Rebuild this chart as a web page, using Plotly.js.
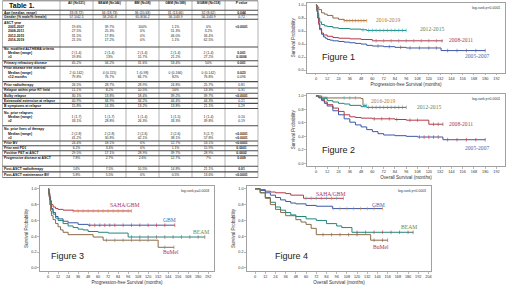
<!DOCTYPE html>
<html><head><meta charset="utf-8">
<script src="https://cdn.plot.ly/plotly-3.0.1.min.js"></script>
<style>html,body{margin:0;padding:0;background:#fff;overflow:hidden}</style>
</head><body><div id="chart" style="width:520px;height:292px"></div>
<script>
// ---------------- TABLE DATA ----------------
const tableTitle = 'Table 1.';
const colHeaders = ['All (N=531)','BEAM (N=146)','BM (N=38)','GBM (N=189)','S/GBM (N=158)','P value'];
const rowLabels = ['Age (median, range)','Gender (% male/% female)','ASCT year','2005-2007','2008-2011','2012-2015','2016-2019','No. modified ALTHEMA criteria','Median (range)','≥3','Primary refractory disease','Prior disease free interval','Median (range)','≤12 months','Prior radiotherapy','Relapse within prior RT field','Bulky relapse','Extranodal extension at relapse','B symptoms at relapse','No. prior relapses','Median (range)','≥2','No. prior lines of therapy','Median (range)','≥3','Prior BV','Prior anti PD1','Positive PET at ASCT','Progressive disease at ASCT','Post-ASCT radiotherapy','Post-ASCT maintenance BV'];
const valAll  = ['33 (8-72)','57.5/42.5','','19.6%','27.5%','31.5%','21.5%','','2 (1-4)','19.8%','45.2%','','2 (0-142)','79.8%','26.5%','11.1%','30.1%','40.9%','15.8%','','1 (1-7)','33.1%','','2 (2-8)','41.2%','24.4%','6.2%','29.5%','7.8%','14%','5.8%'];
const valBEAM = ['34 (18-73)','58.2/41.8','','39.7%','25.3%','17.8%','17.2%','','2 (1-4)','13%','34.2%','','4 (0-115)','76.7%','28.7%','8.2%','13.8%','34.9%','14.3%','','1 (1-7)','28.8%','','2 (2-8)','30.8%','18.1%','3.4%','17.1%','2.7%','7.5%','5.5%'];
const valBM   = ['36 (20-63)','65.8/34.2','','100%','0%','0%','0%','','2 (1-4)','15.7%','31.6%','','1 (0-98)','84.7%','28.9%','10.5%','18.4%','34.2%','13.2%','','1 (1-4)','26.3%','','2 (2-6)','42.1%','0%','0%','28.9%','2.6%','10.5%','0%'];
const valGBM  = ['31 (13-66)','56.1/43.9','','1.1%','51.3%','46.0%','1.1%','','2 (1-4)','21.2%','53.4%','','0 (0-166)','82%','24.8%','10%','39.2%','44.4%','13.8%','','1 (1-5)','33.3%','','2 (2-6)','38.1%','12.7%','1.1%','39.7%','12.7%','14.8%','0.5%'];
const valSGBM = ['32 (8-62)','56.1/43.9','','0%','3.2%','34.4%','62.5%','','2 (1-4)','27.2%','50%','','0 (0-142)','76.8%','25.7%','13.3%','39.7%','44.3%','21.1%','','1 (1-4)','39.8%','','3 (2-7)','57.8%','53.1%','15.9%','28.9%','7%','21.1%','13.6%'];
const valP    = ['0.044','0.72','','<0.0001','','','','','0.001','0.0006','0.001','','0.023','0.096','0.81','0.31','<0.0001','0.21','0.29','','0.10','0.19','','<0.0001','<0.0001','<0.0001','0.0001','0.0002','0.009','0.01','<0.0001'];

// ---------------- KM DATA (months, survival probability, censor times) ----------------
// Figure 1: PFS by ASCT year
const f1_0507_t = [0,1,2,3,4,6,8,10,12,15,18,24,30,36,42,48,54,60,72,84,96,133,180];
const f1_0507_s = [1,0.9,0.8,0.72,0.64,0.55,0.51,0.49,0.47,0.46,0.45,0.44,0.43,0.42,0.41,0.4,0.38,0.37,0.36,0.35,0.34,0.3,0.3];
const f1_0507_c = [66,78,90,100,110,120,128,140,150,160,170,180];
const f1_0811_t = [0,1,2,3,4,6,8,12,18,24,36,48,60,135];
const f1_0811_s = [1,0.92,0.8,0.7,0.62,0.57,0.54,0.52,0.5,0.49,0.48,0.47,0.45,0.45];
const f1_0811_c = [64,72,80,88,96,104,112,120,128,134];
const f1_1215_t = [0,1,2,3,4,6,9,12,18,24,36,48,54,96];
const f1_1215_s = [1,0.95,0.87,0.8,0.74,0.7,0.68,0.67,0.65,0.64,0.63,0.62,0.61,0.61];
const f1_1215_c = [50,56,60,64,68,72,76,80,84,88,92,96];
const f1_1619_t = [0,1,3,6,9,12,18,24,30,54];
const f1_1619_s = [1,0.97,0.93,0.88,0.86,0.84,0.8,0.78,0.76,0.76];
const f1_1619_c = [30,33,36,39,42,45,48,51,54];
// Figure 2: OS by ASCT year
const f2_0507_t = [0,3,6,9,12,18,24,30,36,42,48,54,60,66,72,84,96,108,135,180];
const f2_0507_s = [1,0.97,0.93,0.89,0.85,0.78,0.72,0.66,0.61,0.57,0.54,0.5,0.47,0.44,0.42,0.41,0.4,0.39,0.35,0.35];
const f2_0507_c = [110,115,120,125,130,140,150,160,170,180];
const f2_0811_t = [0,3,6,9,12,18,24,30,36,42,48,60,84,96,120,135];
const f2_0811_s = [1,0.98,0.95,0.91,0.87,0.82,0.77,0.72,0.69,0.68,0.67,0.66,0.65,0.64,0.58,0.58];
const f2_0811_c = [62,70,78,86,100,108,125,130,135];
const f2_1215_t = [0,3,6,12,18,24,30,36,48,54,96];
const f2_1215_s = [1,0.98,0.96,0.93,0.91,0.89,0.88,0.86,0.84,0.83,0.83];
const f2_1215_c = [56,60,64,68,72,76,80,84,88,92,96];
const f2_1619_t = [0,6,12,48,50,54];
const f2_1619_s = [1,0.98,0.97,0.96,0.86,0.86];
const f2_1619_c = [30,36,42,52,54];
// Figure 3: PFS by regimen
const f3_saha_t = [0,1,2,3,4,6,9,12,18,24,30,100];
const f3_saha_s = [1,0.95,0.9,0.85,0.8,0.77,0.75,0.74,0.73,0.73,0.72,0.72];
const f3_saha_c = [30,36,42,48,54,60,66,72,78,84,90,96,100];
const f3_gbm_t  = [0,1,2,3,4,6,9,12,18,24,36,48,152];
const f3_gbm_s  = [1,0.93,0.86,0.8,0.75,0.7,0.65,0.62,0.59,0.57,0.55,0.54,0.54];
const f3_gbm_c  = [50,56,62,68,74,80,90,100,110,120,130,140,152];
const f3_beam_t = [0,1,2,3,4,6,9,12,18,24,30,36,42,48,60,72,96,188];
const f3_beam_s = [1,0.93,0.86,0.8,0.74,0.68,0.63,0.6,0.56,0.53,0.51,0.49,0.48,0.46,0.45,0.44,0.39,0.39];
const f3_beam_c = [100,110,120,130,140,150,160,170,180,188];
const f3_bumel_t = [0,1,2,3,4,6,9,12,15,18,24,54,66,132,151];
const f3_bumel_s = [1,0.9,0.8,0.72,0.66,0.61,0.56,0.52,0.48,0.45,0.42,0.39,0.35,0.26,0.26];
const f3_bumel_c = [70,80,90,100,110,120,140,151];
// Figure 4: OS by regimen
const f4_saha_t = [0,6,12,18,24,36,42,57,104];
const f4_saha_s = [1,0.99,0.97,0.96,0.95,0.94,0.92,0.88,0.88];
const f4_saha_c = [60,66,72,78,84,90,96,104];
const f4_gbm_t  = [0,6,12,18,24,30,36,42,48,60,72,91,150];
const f4_gbm_s  = [1,0.98,0.95,0.92,0.89,0.86,0.84,0.82,0.81,0.79,0.78,0.75,0.75];
const f4_gbm_c  = [92,100,108,116,124,132,140,150];
const f4_beam_t = [0,6,12,18,24,30,36,42,48,60,72,84,96,102,114,186];
const f4_beam_s = [1,0.95,0.89,0.83,0.77,0.73,0.7,0.67,0.65,0.62,0.6,0.56,0.53,0.51,0.45,0.45];
const f4_beam_c = [120,130,140,150,160,170,180,186];
const f4_bumel_t = [0,6,12,18,24,30,36,48,54,60,66,72,136,156];
const f4_bumel_s = [1,0.95,0.88,0.8,0.74,0.7,0.66,0.61,0.58,0.55,0.5,0.42,0.35,0.35];
const f4_bumel_c = [80,90,100,110,120,140,150,156];

// ---------------- LAYOUT / STYLE ----------------
const W = 520, H = 292;
const C_BLUE = '#3b58a6', C_RED = '#b23a48', C_TEAL = '#23877a', C_BROWN = '#8a6a48';
const rowY = [12.8,16.9,22.8,27.2,31.6,36.0,40.4,49.2,53.2,57.2,63.6,68.6,72.8,76.8,85.0,90.5,95.9,100.9,105.9,113.0,117.4,121.6,129.4,133.8,138.2,143.3,148.2,153.1,158.3,169.0,174.7];
const subRows = [3,4,5,6,8,9,12,13,20,21,23,24];
const colLines = [2.5,60,93,126,159,192,225,258];
const sepY = [10.3,14.7,19.3,47,60.7,66.3,81.6,88,93.3,98.4,103.4,108.5,125.8,141,145.8,150.7,155.7,166.2,171.9];
const tableTop = 0.8, tableBottom = 177.5, headerY = 3.6;
const TF = 'Liberation Sans';

const traces = [];
const shapes = [];
const annotations = [];

// table: labels
traces.push({
  type:'scatter', mode:'text', xaxis:'x5', yaxis:'y5', cliponaxis:false, hoverinfo:'skip', showlegend:false,
  x: rowLabels.map((_,i)=> subRows.includes(i) ? 8 : 4),
  y: rowY,
  text: rowLabels.map(l=>'<b>'+l+'</b>'),
  textposition:'middle right',
  textfont:{family:TF, size:3.4, color:'#111'}
});
// table: values
const valueCols = [valAll, valBEAM, valBM, valGBM, valSGBM, valP];
const cx=[], cy=[], ct=[];
valueCols.forEach((col,ci)=>{
  const xc = (colLines[ci+1]+colLines[ci+2])/2;
  col.forEach((v,ri)=>{
    if(v==='') return;
    let t = v;
    if(ci===5){ const num = parseFloat(v.replace('<','')); if(num<0.05) t='<b>'+v+'</b>'; }
    cx.push(xc); cy.push(rowY[ri]); ct.push(t);
  });
});
traces.push({
  type:'scatter', mode:'text', xaxis:'x5', yaxis:'y5', cliponaxis:false, hoverinfo:'skip', showlegend:false,
  x:cx, y:cy, text:ct, textposition:'middle center',
  textfont:{family:TF, size:3.4, color:'#222'}
});
// table: headers
traces.push({
  type:'scatter', mode:'text', xaxis:'x5', yaxis:'y5', cliponaxis:false, hoverinfo:'skip', showlegend:false,
  x: colHeaders.map((_,ci)=>(colLines[ci+1]+colLines[ci+2])/2),
  y: colHeaders.map(()=>headerY),
  text: colHeaders.map(h=>'<b>'+h+'</b>'),
  textposition:'middle center',
  textfont:{family:TF, size:3.3, color:'#111'}
});
traces.push({
  type:'scatter', mode:'text', xaxis:'x5', yaxis:'y5', cliponaxis:false, hoverinfo:'skip', showlegend:false,
  x:[9], y:[6], text:['<b>'+tableTitle+'</b>'], textposition:'middle right',
  textfont:{family:TF, size:7, color:'#111'}
});
colLines.forEach(x=>shapes.push({type:'line', xref:'x5', yref:'y5', x0:x, x1:x, y0:tableTop, y1:tableBottom, line:{color:'#808080', width:0.6}}));
shapes.push({type:'line', xref:'x5', yref:'y5', x0:colLines[0], x1:colLines[colLines.length-1], y0:tableTop, y1:tableTop, line:{color:'#555', width:0.8}});
shapes.push({type:'line', xref:'x5', yref:'y5', x0:colLines[0], x1:colLines[colLines.length-1], y0:tableBottom, y1:tableBottom, line:{color:'#555', width:0.8}});
sepY.forEach(y=>shapes.push({type:'line', xref:'x5', yref:'y5', x0:colLines[0], x1:colLines[colLines.length-1], y0:y, y1:y, line:{color:'#4a4a4a', width:1.1}}));

// ---------------- KM panels ----------------
const panels = [
  {ax:'', px:[307,505], py:[2.7,72.7], xr:[-9.5,201], title:'Progression-free Survival (months)', fig:'Figure 1', fx:4, fy:0.2, lr:'log-rank p<0.0001',
   curves:[[f1_0507_t,f1_0507_s,f1_0507_c,C_BLUE],[f1_0811_t,f1_0811_s,f1_0811_c,C_RED],[f1_1215_t,f1_1215_s,f1_1215_c,C_TEAL],[f1_1619_t,f1_1619_s,f1_1619_c,C_BROWN]],
   labels:[['2016-2019',62,0.775,'#b07840'],['2012-2015',108,0.635,'#5b7f55'],['2008-2011',139,0.465,'#b0344f'],['2005-2007',156,0.22,'#4a68b0']]},
  {ax:'2', px:[307,505], py:[93.5,166], xr:[-9.5,201], title:'Overall Survival (months)', fig:'Figure 2', fx:4, fy:0.2, lr:'log-rank p<0.0001',
   curves:[[f2_0507_t,f2_0507_s,f2_0507_c,C_BLUE],[f2_0811_t,f2_0811_s,f2_0811_c,C_RED],[f2_1215_t,f2_1215_s,f2_1215_c,C_TEAL],[f2_1619_t,f2_1619_s,f2_1619_c,C_BROWN]],
   labels:[['2016-2019',56,0.93,'#b07840'],['2012-2015',105,0.83,'#5b7f55'],['2008-2011',139,0.58,'#b0344f'],['2005-2007',156,0.22,'#4a68b0']]},
  {ax:'3', px:[40,214], py:[186,271], xr:[-9.7,199], title:'Progression-free Survival (months)', fig:'Figure 3', fx:1, fy:0.15, lr:'log-rank p=0.0003',
   curves:[[f3_saha_t,f3_saha_s,f3_saha_c,C_RED],[f3_gbm_t,f3_gbm_s,f3_gbm_c,C_BLUE],[f3_beam_t,f3_beam_s,f3_beam_c,C_TEAL],[f3_bumel_t,f3_bumel_s,f3_bumel_c,C_BROWN]],
   labels:[['SAHA/GBM',72,0.79,'#b0344f'],['GBM',135,0.6,'#4a68b0'],['BEAM',171,0.46,'#6d8a3e'],['BuMel',135,0.2,'#b0344f']]},
  {ax:'4', px:[247,431], py:[186,271], xr:[-9.5,207], title:'Overall Survival (months)', fig:'Figure 4', fx:21, fy:0.15, lr:'log-rank p<0.0001',
   curves:[[f4_saha_t,f4_saha_s,f4_saha_c,C_RED],[f4_gbm_t,f4_gbm_s,f4_gbm_c,C_BLUE],[f4_beam_t,f4_beam_s,f4_beam_c,C_TEAL],[f4_bumel_t,f4_bumel_s,f4_bumel_c,C_BROWN]],
   labels:[['SAHA/GBM',69,0.94,'#b0344f'],['GBM',135,0.8,'#4a68b0'],['BEAM',169,0.52,'#6d8a3e'],['BuMel',136,0.27,'#b0344f']]}
];

function stepAt(ts, ss, t){ let v = ss[0]; for(let i=0;i<ts.length;i++){ if(ts[i]<=t) v = ss[i]; } return v; }

const layout = {
  width:W, height:H, margin:{l:0,r:0,t:0,b:0}, paper_bgcolor:'#fff', plot_bgcolor:'rgba(0,0,0,0)',
  showlegend:false, font:{family:TF, color:'#333'},
  xaxis5:{domain:[0,1], range:[0,W], visible:false, anchor:'y5', fixedrange:true},
  yaxis5:{domain:[0,1], range:[H,0], visible:false, anchor:'x5', fixedrange:true},
  shapes:shapes, annotations:annotations
};

panels.forEach(p=>{
  const xk = 'xaxis'+p.ax, yk = 'yaxis'+p.ax;
  const xr = 'x'+p.ax, yr = 'y'+p.ax;
  layout[xk] = {
    domain:[p.px[0]/W, p.px[1]/W], range:p.xr, anchor:yr,
    showline:true, mirror:true, linecolor:'#8a8a8a', linewidth:0.8,
    ticks:'outside', ticklen:1.8, tickwidth:0.6, tickcolor:'#8a8a8a',
    tick0:0, dtick:12, showgrid:false, zeroline:false, fixedrange:true,
    tickfont:{size:3.8, color:'#333', family:TF},
    title:{text:p.title, font:{size:4.6, color:'#333', family:TF}, standoff:2}
  };
  layout[yk] = {
    domain:[1-p.py[1]/H, 1-p.py[0]/H], range:[-0.04,1.036], anchor:xr,
    showline:true, mirror:true, linecolor:'#8a8a8a', linewidth:0.8,
    ticks:'outside', ticklen:1.8, tickwidth:0.6, tickcolor:'#8a8a8a',
    tickvals:[0,0.2,0.4,0.6,0.8,1.0], tickformat:'.1f', showgrid:false, zeroline:false, fixedrange:true,
    tickfont:{size:3.8, color:'#333', family:TF},
    title:{text:'Survival Probability', font:{size:4.6, color:'#333', family:TF}, standoff:2}
  };
  p.curves.forEach(c=>{
    traces.push({type:'scatter', mode:'lines', xaxis:xr, yaxis:yr, x:c[0], y:c[1],
      line:{color:c[3], width:1, shape:'hv'}, hoverinfo:'skip', showlegend:false});
    traces.push({type:'scatter', mode:'markers', xaxis:xr, yaxis:yr, x:c[2], y:c[2].map(t=>stepAt(c[0],c[1],t)),
      marker:{symbol:'line-ns-open', size:2.6, line:{color:c[3], width:0.6}}, hoverinfo:'skip', showlegend:false});
  });
  p.labels.forEach(l=>{
    annotations.push({xref:xr, yref:yr, x:l[1], y:l[2], text:l[0], showarrow:false, xanchor:'left', yanchor:'middle',
      font:{family:'Liberation Serif', size:5.6, color:l[3]}});
  });
  annotations.push({xref:xr, yref:yr, x:p.fx, y:p.fy, text:p.fig, showarrow:false, xanchor:'left', yanchor:'middle',
    font:{family:TF, size:9, color:'#222'}});
  annotations.push({xref:xr+' domain', yref:yr+' domain', x:0.985, y:0.985, text:p.lr, showarrow:false, xanchor:'right', yanchor:'top',
    font:{family:TF, size:3.5, color:'#333'}});
});

Plotly.newPlot('chart', traces, layout, {staticPlot:true, displayModeBar:false});
</script></body></html>
